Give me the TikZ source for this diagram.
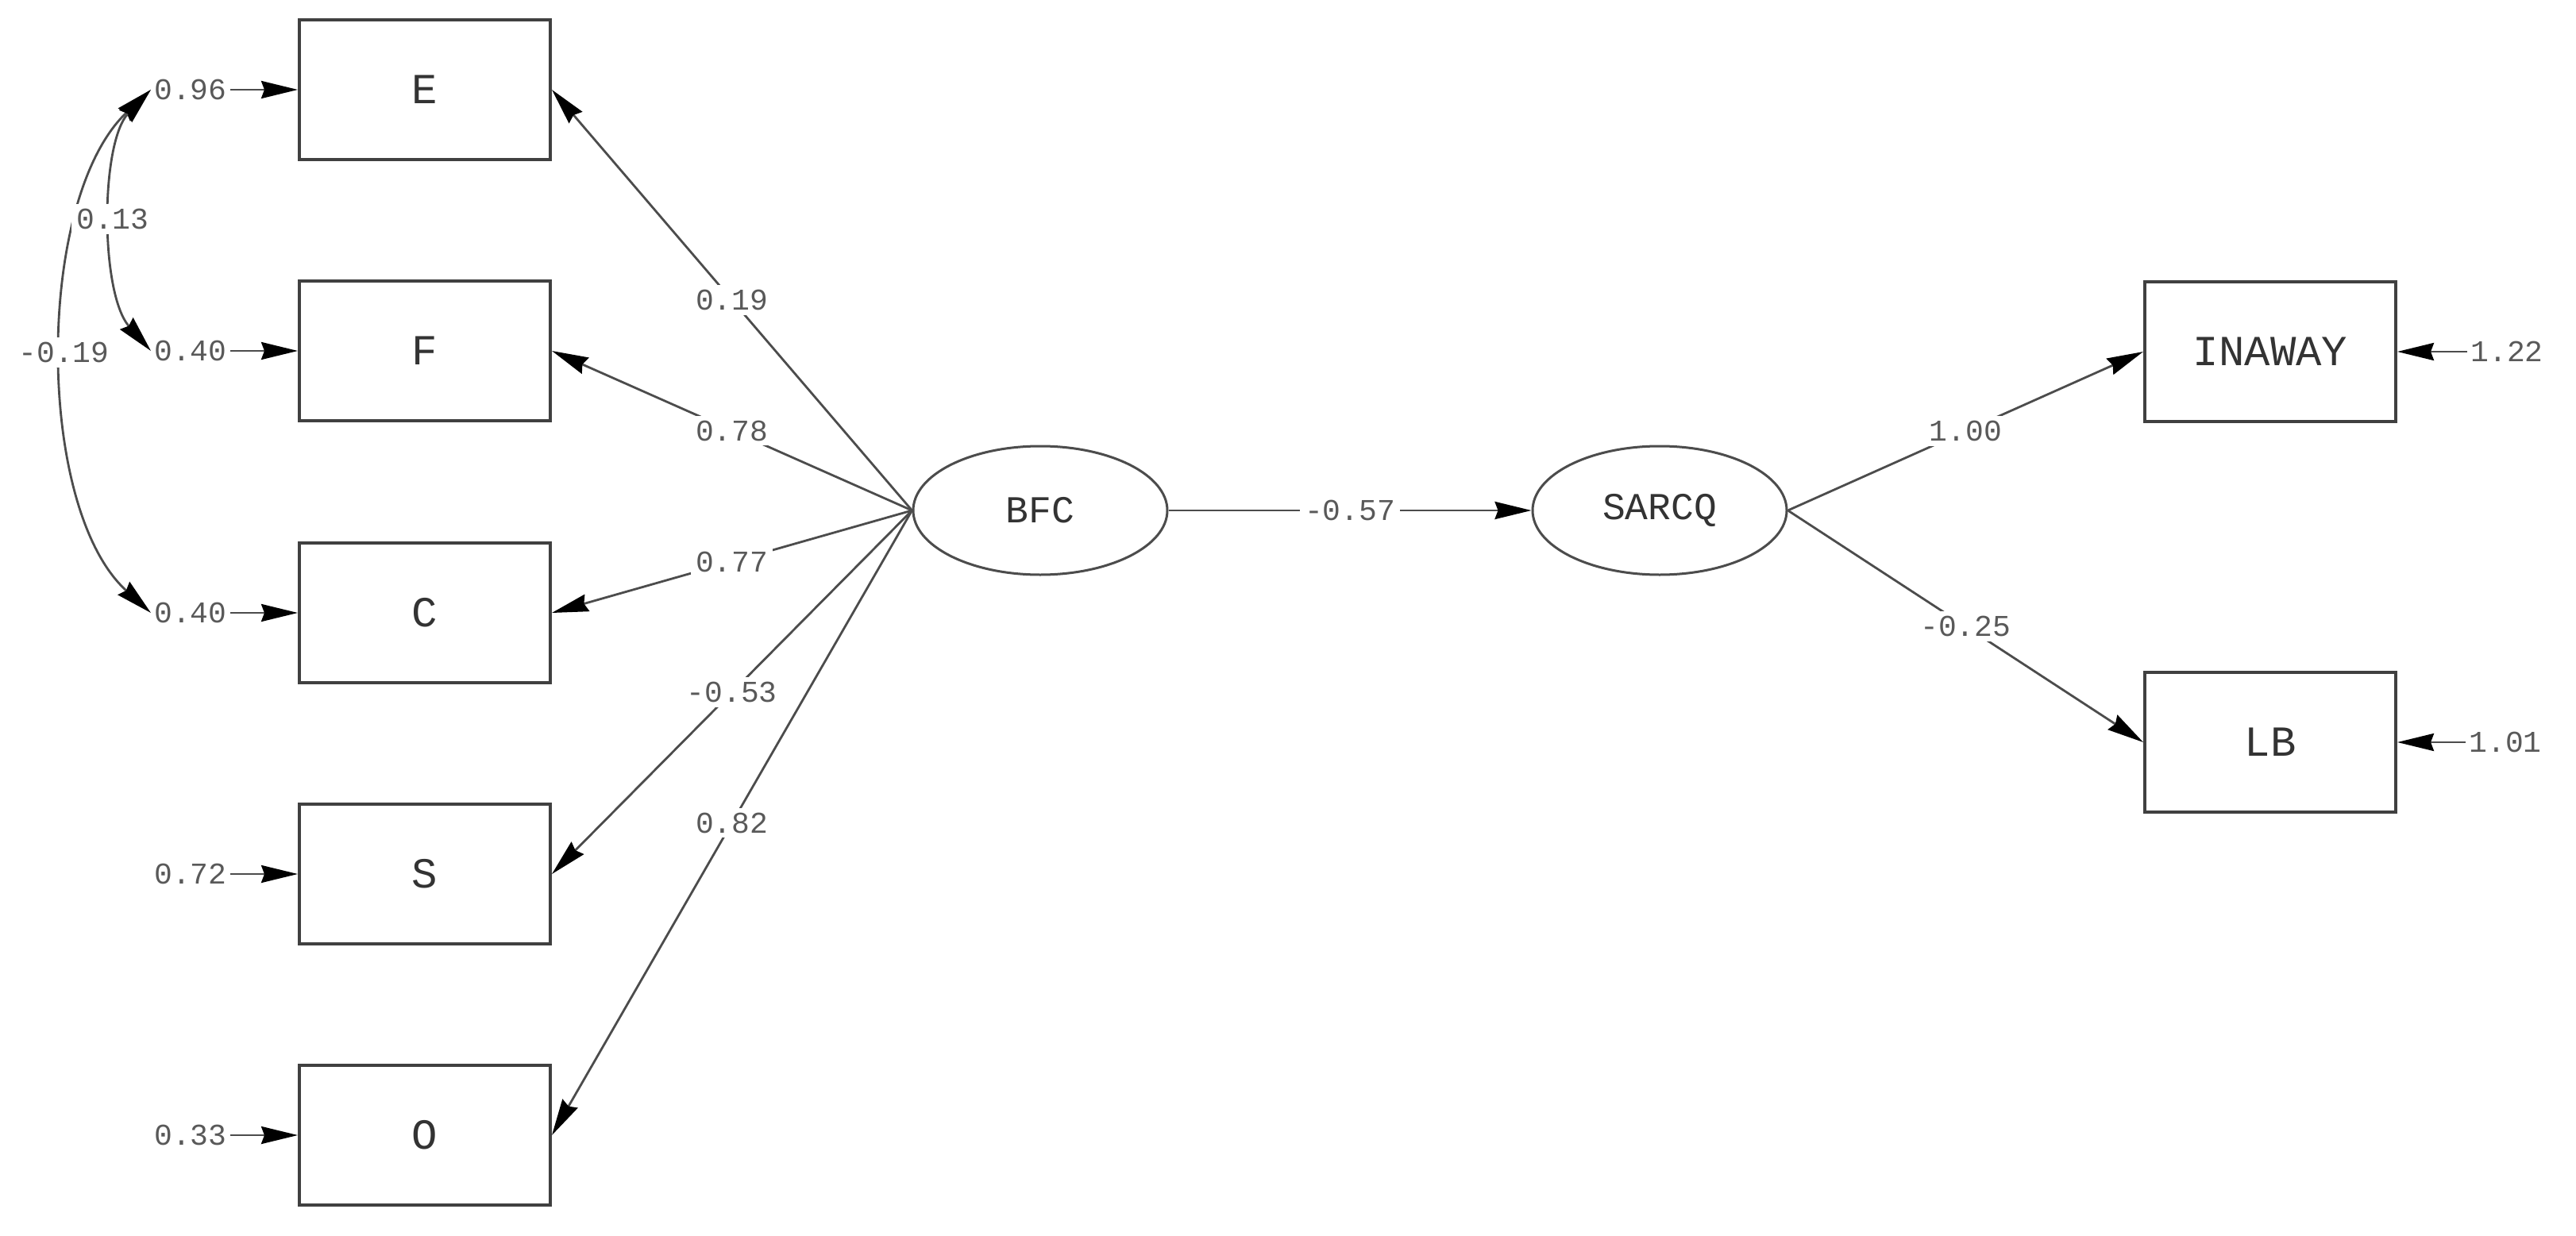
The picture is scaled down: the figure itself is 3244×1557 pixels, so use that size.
\documentclass[tikz,border=0pt]{standalone}
\usepackage{fontspec}
\setmainfont{Liberation Mono}
\usetikzlibrary{arrows.meta,shapes.geometric}
\begin{document}
\begin{tikzpicture}[x=0.5pt,y=-0.5pt,
  obs/.style={draw=black!75, line width=2pt, minimum width=158pt, minimum height=88pt, inner sep=0pt, font=\fontsize{27}{29}\selectfont, text=black!80},
  lat/.style={draw=black!70, line width=1.5pt, ellipse, minimum width=160pt, minimum height=81pt, inner sep=0pt, font=\fontsize{24}{26}\selectfont, text=black!80},
  num/.style={font=\fontsize{19}{21}\selectfont, text=black!65, inner sep=2pt},
  lbl/.style={num, fill=white, inner sep=3pt},
  tip/.style={-{Stealth[length=23pt,width=11pt,inset=2pt,color=black]}},
  pth/.style={draw=black!70, line width=1.4pt, tip},
  cov/.style={draw=black!70, line width=1.4pt, {Stealth[length=23pt,width=11pt,inset=2pt,color=black]}-{Stealth[length=23pt,width=11pt,inset=2pt,color=black]}}
]
\useasboundingbox[fill=white] (0,0) rectangle (3244,1557);

% observed indicators
\node[obs] (E) at (535,113) {E};
\node[obs] (F) at (535,442) {F};
\node[obs] (C) at (535,772) {C};
\node[obs] (S) at (535,1101) {S};
\node[obs] (O) at (535,1430) {O};
\node[obs] (INAWAY) at (2859,443) {INAWAY};
\node[obs] (LB) at (2859,935) {LB};

% latent variables
\node[lat] (BFC) at (1310,643) {BFC};
\node[lat] (SARCQ) at (2090,643) {SARCQ};

% error variances
\node[num] (eE) at (240,113) {0.96};
\node[num] (eF) at (240,442) {0.40};
\node[num] (eC) at (240,772) {0.40};
\node[num] (eS) at (240,1101) {0.72};
\node[num] (eO) at (240,1430) {0.33};
\node[num] (eI) at (3157,443) {1.22};
\node[num] (eL) at (3155,935) {1.01};

\draw[pth] (eE.east) -- (E.west);
\draw[pth] (eF.east) -- (F.west);
\draw[pth] (eC.east) -- (C.west);
\draw[pth] (eS.east) -- (S.west);
\draw[pth] (eO.east) -- (O.west);
\draw[pth] (eI.west) -- (INAWAY.east);
\draw[pth] (eL.west) -- (LB.east);

% error covariances
\draw[cov] (eE.west) .. controls (44,250) and (44,640) .. node[lbl]{-0.19} (eC.west);
\draw[cov] (eE.west) .. controls (126,180) and (126,370) .. node[lbl]{0.13} (eF.west);

% loadings
\draw[pth] (BFC.west) -- node[lbl]{0.19} (E.east);
\draw[pth] (BFC.west) -- node[lbl]{0.78} (F.east);
\draw[pth] (BFC.west) -- node[lbl]{0.77} (C.east);
\draw[pth] (BFC.west) -- node[lbl]{-0.53} (S.east);
\draw[pth] (BFC.west) -- node[lbl]{0.82} (O.east);

% structural path
\draw[pth] (BFC.east) -- node[lbl]{-0.57} (SARCQ.west);

\draw[pth] (SARCQ.east) -- node[lbl]{1.00} (INAWAY.west);
\draw[pth] (SARCQ.east) -- node[lbl]{-0.25} (LB.west);
\end{tikzpicture}
\end{document}
